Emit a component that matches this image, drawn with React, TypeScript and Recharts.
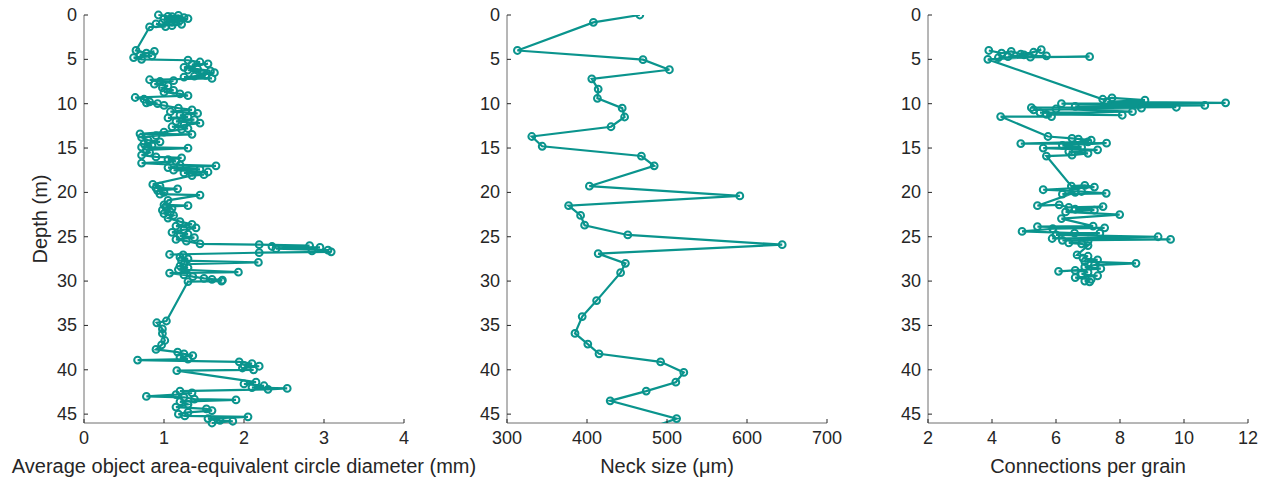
import { Label, Scatter, ScatterChart, XAxis, YAxis } from "recharts";

const TEAL = "#0a948d";
const AXIS = "#6e6e6e";
const INK = "#262626";
const FONT = '"Liberation Sans", Arial, Helvetica, sans-serif';

const depthTicks = [0, 5, 10, 15, 20, 25, 30, 35, 40, 45];
const diameterTicks = [0, 1, 2, 3, 4];
const neckTicks = [300, 400, 500, 600, 700];
const connectionTicks = [2, 4, 6, 8, 10, 12];

// [depth (m), average diameter (mm)]
const diameterByDepth: [number, number][] = [
  [0.0, 0.93], [0.15, 1.05], [0.05, 1.18], [0.3, 1.25], [0.2, 1.1], [0.45, 1.0], [0.6, 1.2], [0.4, 1.3],
  [0.75, 1.15], [0.9, 0.98], [0.7, 1.08], [1.05, 1.22], [1.2, 1.1], [1.0, 0.9], [1.3, 1.02], [1.35, 0.82],
  [4.0, 0.65], [4.3, 0.78], [4.1, 0.88], [4.5, 0.7], [4.6, 0.85], [4.8, 0.62], [5.0, 0.72],
  [5.1, 1.3], [5.3, 1.45], [5.6, 1.35], [5.5, 1.55], [5.9, 1.25], [6.1, 1.42], [6.3, 1.58], [6.2, 1.3],
  [6.6, 1.48], [6.5, 1.63], [6.9, 1.38], [6.8, 1.52], [7.0, 1.25], [7.15, 1.6],
  [7.3, 0.82], [7.5, 0.95], [7.4, 1.12], [7.8, 0.88], [8.0, 1.05], [8.2, 0.98], [8.5, 1.12], [8.7, 1.0],
  [8.9, 1.2], [9.1, 1.3], [9.3, 0.64], [9.5, 0.75], [9.8, 0.82], [10.0, 0.92], [9.9, 0.78], [10.2, 1.0],
  [10.5, 1.18], [10.7, 1.35], [10.9, 1.08], [11.1, 1.42], [11.3, 1.2], [11.5, 1.3], [11.6, 1.05], [11.8, 1.38],
  [12.0, 1.15], [12.2, 1.45], [12.4, 1.25], [12.6, 1.1], [12.8, 1.3], [12.9, 1.22],
  [13.2, 1.0], [13.4, 0.7], [13.45, 1.35], [13.6, 0.9], [13.8, 0.72], [14.1, 0.8], [14.3, 0.95], [14.5, 0.75],
  [14.7, 0.85], [14.9, 0.72], [15.0, 1.3], [15.2, 0.78], [15.5, 0.82], [15.8, 0.72], [16.0, 0.9], [16.1, 1.22],
  [16.3, 1.05], [16.5, 1.15], [16.7, 0.72], [16.9, 1.2], [17.0, 1.65], [17.2, 1.05], [17.4, 1.45], [17.5, 1.12],
  [17.7, 1.55], [17.8, 1.25], [18.0, 1.5], [18.1, 1.35],
  [19.1, 0.86], [19.3, 0.95], [19.5, 0.9], [19.6, 1.17], [19.8, 0.92], [20.0, 1.0], [20.2, 0.95], [20.3, 1.45],
  [20.9, 1.05], [21.4, 1.0], [21.5, 1.3], [21.6, 1.02], [21.8, 1.1], [22.0, 0.98], [22.2, 1.08], [22.4, 1.0],
  [22.6, 1.12], [22.9, 1.05],
  [23.3, 1.2], [23.6, 1.35], [23.8, 1.15], [24.0, 1.4], [24.2, 1.25], [24.5, 1.1], [24.7, 1.3], [24.9, 1.2],
  [25.1, 1.38], [25.3, 1.15], [25.5, 1.28], [25.8, 1.45], [25.9, 2.19], [26.0, 2.82], [26.1, 2.35], [26.2, 2.95],
  [26.35, 2.4], [26.5, 3.05], [26.6, 2.85], [26.7, 3.09], [26.8, 2.19], [27.0, 1.07], [27.05, 1.24], [27.3, 1.2],
  [27.5, 1.3], [27.7, 1.22], [27.9, 2.18], [28.1, 1.25], [28.3, 1.2], [28.5, 1.3], [28.7, 1.18], [29.0, 1.93],
  [29.1, 1.07], [29.3, 1.25], [29.5, 1.36], [29.7, 1.5], [29.9, 1.73], [29.8, 1.6], [30.0, 1.72], [30.05, 1.3],
  [34.5, 1.03], [34.7, 0.91], [35.4, 0.98], [35.9, 0.98], [36.7, 1.01], [37.2, 0.97], [37.7, 0.9],
  [38.0, 1.17], [38.2, 1.25], [38.4, 1.36], [38.6, 1.2], [38.8, 1.3], [38.9, 0.67], [39.1, 1.94], [39.3, 2.1],
  [39.5, 2.0], [39.6, 2.19], [39.8, 1.98], [40.0, 2.12], [40.1, 1.16], [41.4, 2.15], [41.6, 2.0], [41.8, 2.25],
  [42.0, 2.1], [42.1, 2.54], [42.2, 2.3], [42.4, 1.2], [42.6, 1.35], [42.8, 1.15], [43.0, 0.78], [43.1, 1.25],
  [43.3, 1.38], [43.4, 1.9], [43.6, 1.2], [43.9, 1.3], [44.2, 1.15], [44.4, 1.53], [44.6, 1.6], [44.8, 1.3],
  [45.0, 1.18], [45.2, 1.26], [45.3, 2.05], [45.5, 1.55], [45.7, 1.7], [45.8, 1.86], [46.0, 1.6],
];

// [depth (m), neck size (um)]
const neckByDepth: [number, number][] = [
  [0.0, 466], [0.83, 408], [4.0, 313], [5.04, 470], [6.17, 503], [7.2, 406], [8.35, 414], [9.4, 413],
  [10.5, 444], [11.5, 447], [12.6, 430], [13.7, 331], [14.8, 344], [15.9, 468], [17.0, 484], [19.3, 403],
  [20.4, 591], [21.5, 377], [22.6, 392], [23.7, 397], [24.8, 451], [25.9, 644], [26.9, 414], [28.0, 448],
  [29.05, 442], [32.2, 412], [34.0, 394], [35.9, 385], [37.1, 401], [38.2, 415], [39.1, 492], [40.3, 521],
  [41.4, 511], [42.4, 474], [43.5, 429], [45.5, 512], [46.6, 478],
];

// [depth (m), connections per grain]
const connectionsByDepth: [number, number][] = [
  [4.0, 3.9], [4.3, 4.3], [4.1, 4.6], [4.4, 4.9], [4.2, 5.3], [3.9, 5.54], [4.5, 5.0], [4.7, 4.5],
  [4.6, 5.7], [4.8, 4.2], [4.7, 7.05], [4.75, 5.2], [5.0, 3.87],
  [9.5, 7.46], [9.35, 7.75], [9.6, 8.78], [9.8, 7.6], [9.9, 11.3], [10.0, 6.17], [10.2, 10.65], [10.3, 6.6],
  [10.4, 9.76], [10.45, 5.23], [10.5, 8.67], [10.7, 5.3], [10.6, 6.0], [10.9, 8.39], [11.0, 5.5], [11.3, 8.07],
  [11.2, 5.7], [11.45, 5.86], [11.45, 4.27],
  [13.7, 5.75], [13.9, 6.5], [14.1, 7.1], [14.0, 6.7], [14.3, 7.0], [14.5, 4.9], [14.45, 7.58], [14.7, 6.2],
  [14.9, 6.8], [15.0, 5.6], [15.2, 7.3], [15.4, 6.4], [15.6, 7.0], [15.8, 6.5], [15.9, 5.7],
  [19.3, 6.48], [19.2, 6.9], [19.4, 7.2], [19.7, 5.6], [19.9, 6.8], [20.1, 7.57], [20.2, 6.2], [20.0, 6.6],
  [21.5, 5.42], [21.4, 6.1], [21.7, 6.4], [21.6, 7.47], [21.9, 6.6], [22.0, 7.2], [22.2, 6.3], [22.5, 7.99],
  [22.95, 6.17], [23.8, 7.16], [23.85, 5.42], [24.0, 7.52], [24.1, 5.9], [24.4, 4.94], [24.6, 6.58], [24.6, 7.37],
  [24.8, 6.0], [25.0, 9.19], [25.2, 5.88], [25.3, 9.58], [25.4, 6.2], [25.5, 7.0], [25.7, 6.4], [25.8, 6.8],
  [26.0, 7.0], [27.05, 6.66], [27.2, 7.0], [27.4, 6.84], [27.6, 7.3], [27.8, 6.9], [28.0, 8.5], [28.2, 7.2],
  [28.4, 6.9], [28.6, 7.4], [28.9, 6.08], [28.8, 6.6], [29.0, 7.0], [29.2, 6.8], [29.4, 7.3], [29.6, 6.6],
  [29.8, 7.1], [30.0, 6.9], [30.1, 7.05],
];

const TICK_LEN = 4;

function BottomTick(props: any) {
  const { x, y, payload } = props;
  return (
    <g>
      <line x1={x} x2={x} y1={y} y2={y - TICK_LEN} stroke={INK} />
      <text x={x} y={y + 21} textAnchor="middle" fontSize={18} fill={INK} fontFamily={FONT}>
        {payload.value}
      </text>
    </g>
  );
}

function TopTick(props: any) {
  const { x, y } = props;
  return <line x1={x} x2={x} y1={y} y2={y + TICK_LEN} stroke={INK} />;
}

function LeftTick(props: any) {
  const { x, y, payload } = props;
  return (
    <g>
      <line x1={x} x2={x + TICK_LEN} y1={y} y2={y} stroke={INK} />
      <text x={x - 7} y={y + 6} textAnchor="end" fontSize={18} fill={INK} fontFamily={FONT}>
        {payload.value}
      </text>
    </g>
  );
}

function RightTick(props: any) {
  const { x, y } = props;
  return <line x1={x} x2={x - TICK_LEN} y1={y} y2={y} stroke={INK} />;
}

function Ring(props: any) {
  return <circle cx={props.cx} cy={props.cy} r={3.4} fill="none" stroke={TEAL} strokeWidth={2} />;
}

type PanelProps = {
  left: number;
  data: [number, number][];
  domain: [number, number];
  ticks: number[];
  label: string;
  depthLabel?: boolean;
  clip?: boolean;
};

function DepthPanel({ left, data, domain, ticks, label, depthLabel, clip }: PanelProps) {
  const rows = data.map(([depth, value]) => ({ depth, value }));
  return (
    <div style={{ position: "absolute", left, top: 0 }}>
      <ScatterChart width={416 + 90} height={482} margin={{ top: 15, right: 102, bottom: 0, left: 14 }}>
        <XAxis
          xAxisId="b"
          type="number"
          dataKey="value"
          domain={domain}
          ticks={ticks}
          interval={0}
          allowDataOverflow={!!clip}
          height={59}
          tickSize={0}
          tickMargin={0}
          tickLine={false}
          axisLine={{ stroke: AXIS }}
          tick={(p: any) => <BottomTick {...p} />}
        >
          <Label value={label} position="insideBottom" offset={9} fontSize={20} fill={INK} fontFamily={FONT} />
        </XAxis>
        <XAxis
          xAxisId="t"
          orientation="top"
          type="number"
          domain={domain}
          ticks={ticks}
          interval={0}
          allowDataOverflow
          height={0}
          tickSize={0}
          tickMargin={0}
          tickLine={false}
          axisLine={{ stroke: AXIS }}
          tick={(p: any) => <TopTick {...p} />}
        />
        <YAxis
          yAxisId="l"
          type="number"
          dataKey="depth"
          domain={[0, 46]}
          reversed
          ticks={depthTicks}
          interval={0}
          allowDataOverflow={!!clip}
          width={70}
          tickSize={0}
          tickMargin={0}
          tickLine={false}
          axisLine={{ stroke: AXIS }}
          tick={(p: any) => <LeftTick {...p} />}
        >
          {depthLabel && (
            <Label
              value="Depth (m)"
              angle={-90}
              position="insideLeft"
              offset={26}
              fontSize={20}
              fill={INK}
              fontFamily={FONT}
              style={{ textAnchor: "middle" }}
            />
          )}
        </YAxis>
        <YAxis
          yAxisId="r"
          orientation="right"
          type="number"
          domain={[0, 46]}
          reversed
          ticks={depthTicks}
          interval={0}
          allowDataOverflow
          width={0}
          tickSize={0}
          tickMargin={0}
          tickLine={false}
          axisLine={{ stroke: AXIS }}
          tick={(p: any) => <RightTick {...p} />}
        />
        <Scatter
          xAxisId="b"
          yAxisId="l"
          data={rows}
          fill={TEAL}
          line={{ stroke: TEAL, strokeWidth: 2.2 }}
          shape={(p: any) => <Ring {...p} />}
          isAnimationActive={false}
        />
      </ScatterChart>
    </div>
  );
}

export default function App() {
  return (
    <div style={{ position: "absolute", left: 0, top: 0, width: 1265, height: 482, background: "#fff", overflow: "hidden" }}>
      <DepthPanel left={0} data={diameterByDepth} domain={[0, 4]} ticks={diameterTicks}
        label="Average object area-equivalent circle diameter (mm)" depthLabel />
      <DepthPanel left={423} data={neckByDepth} domain={[300, 700]} ticks={neckTicks} label="Neck size (μm)" clip />
      <DepthPanel left={844} data={connectionsByDepth} domain={[2, 12]} ticks={connectionTicks}
        label="Connections per grain" />
    </div>
  );
}
